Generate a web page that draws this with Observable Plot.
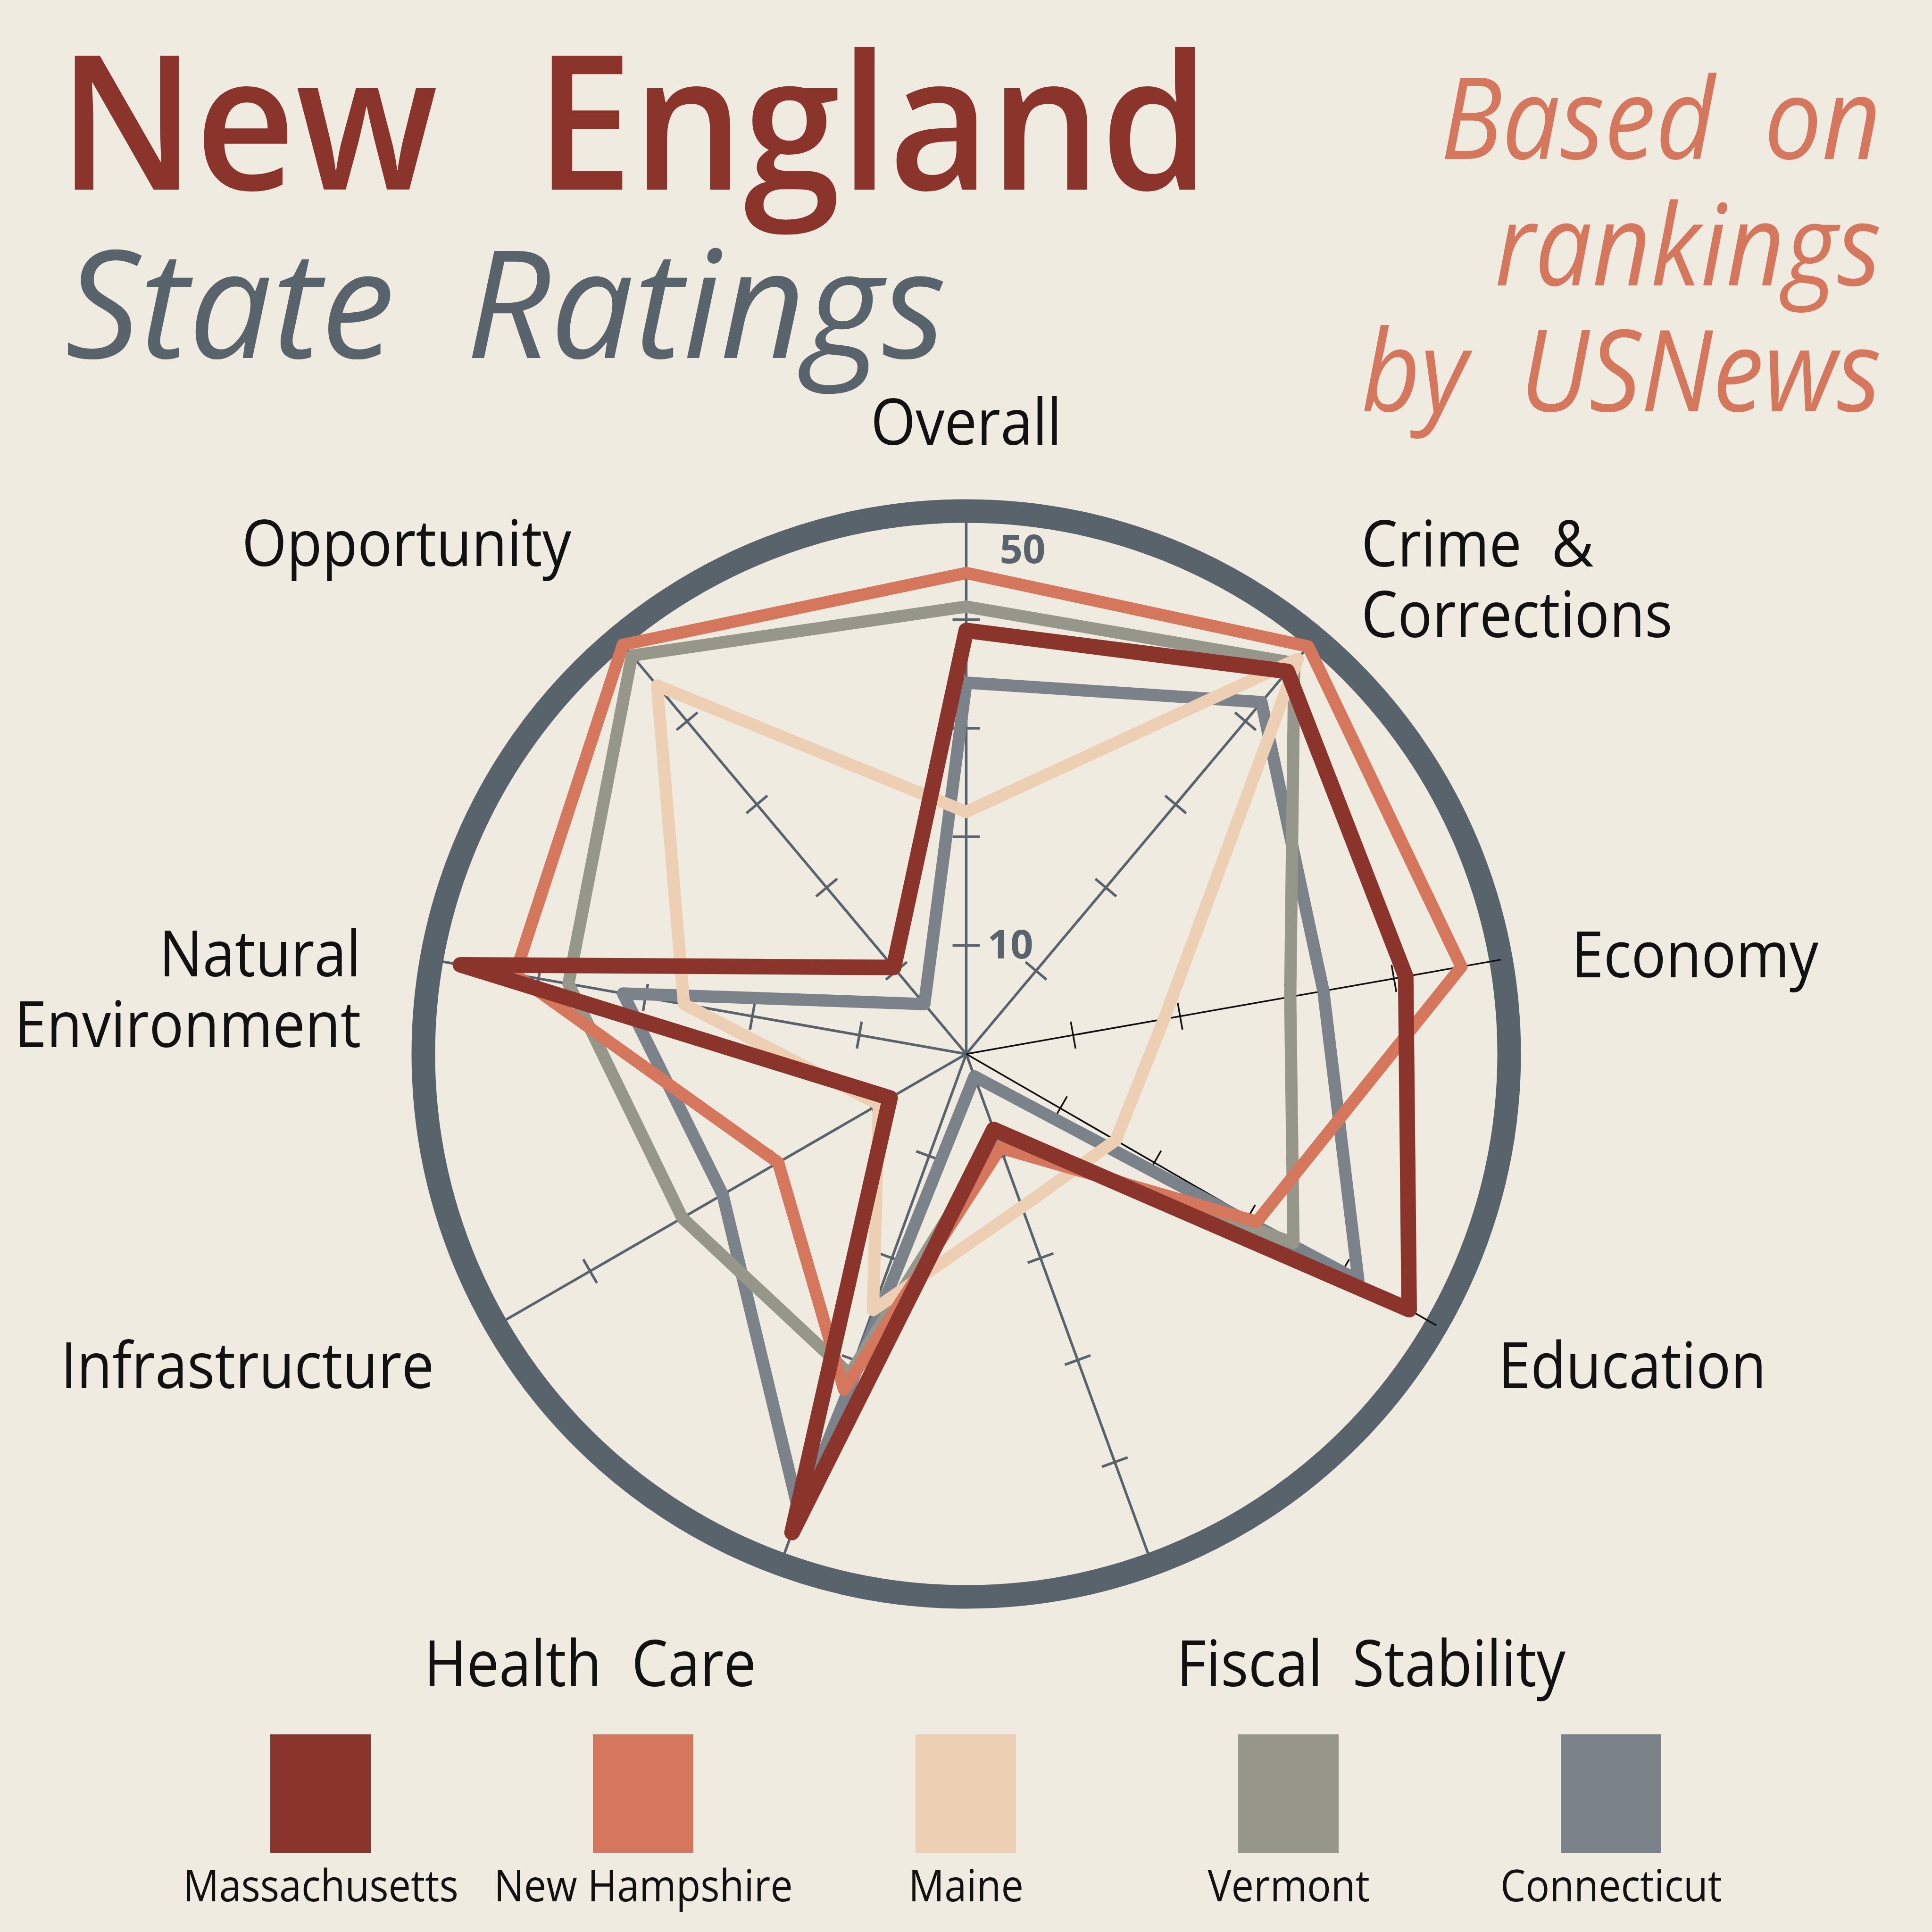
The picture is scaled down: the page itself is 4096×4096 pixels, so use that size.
<!DOCTYPE html>
<html><head><meta charset="utf-8">
<script src="https://cdn.jsdelivr.net/npm/d3@7"></script>
<script src="https://cdn.jsdelivr.net/npm/@observablehq/plot@0.6"></script>
<style>
html,body{margin:0;padding:0;background:#EFEBE0;}
#page{position:relative;width:4096px;height:4096px;overflow:hidden;background:#EFEBE0;font-family:"Open Sans",sans-serif;}
#titles{position:absolute;left:0;top:0;}
#radar{position:absolute;left:0;top:0;}
#legend{position:absolute;left:0;top:3600px;}
#titles text{font-family:"Open Sans",sans-serif;}
</style></head><body><div id="page">
<svg id="titles" width="4096" height="1000" xmlns="http://www.w3.org/2000/svg">
  <text x="124" y="402" font-size="398" font-weight="600" fill="#8A342C" textLength="2440" lengthAdjust="spacingAndGlyphs" style="word-spacing:0.3em">New England</text>
  <text x="138" y="759" font-size="318" font-style="italic" font-weight="400" fill="#58636C" textLength="1868" lengthAdjust="spacingAndGlyphs" style="word-spacing:0.22em">State Ratings</text>
  <text x="3988" y="337" font-size="240" font-style="italic" font-weight="400" fill="#D4775D" text-anchor="end" textLength="934" lengthAdjust="spacingAndGlyphs" style="word-spacing:0.22em">Based on</text>
  <text x="3988" y="605" font-size="240" font-style="italic" font-weight="400" fill="#D4775D" text-anchor="end" textLength="819" lengthAdjust="spacingAndGlyphs">rankings</text>
  <text x="3988" y="872" font-size="240" font-style="italic" font-weight="400" fill="#D4775D" text-anchor="end" textLength="1102" lengthAdjust="spacingAndGlyphs" style="word-spacing:0.25em">by USNews</text>
</svg>
<div id="radar"></div>
<div id="legend"></div>
</div>
<script>
// ---- data ----
const axes = ["Overall", "Crime & Corrections", "Economy", "Education", "Fiscal Stability", "Health Care", "Infrastructure", "Natural Environment", "Opportunity"];
const axisLabels = ["Overall", "Crime\u00A0 &\nCorrections", "Economy", "Education", "Fiscal\u00A0 Stability", "Health\u00A0 Care", "Infrastructure", "Natural\nEnvironment", "Opportunity"];
const states = ["Massachusetts", "New Hampshire", "Maine", "Vermont", "Connecticut"];
const stateColors = ["#8A342C", "#D4775D", "#EDCFB3", "#96968B", "#7B8289"];
const massachusetts = [39.0, 46.0, 41.1, 47.1, 7.4, 46.9, 8.1, 47.3, 10.4];
const newHampshire  = [44.3, 49.0, 46.3, 30.9, 9.2, 32.9, 20.0, 42.2, 49.2];
const maine         = [22.3, 47.5, 18.5, 15.9, 15.0, 25.1, 9.3, 26.4, 44.3];
const vermont       = [41.2, 47.0, 30.3, 34.8, 8.3, 31.4, 30.2, 37.2, 47.9];
const connecticut   = [34.2, 42.3, 33.4, 41.7, 2.2, 45.0, 25.9, 32.1, 6.0];
const tickValues = [10, 20, 30, 40];
const tickLabels = [10, 50];
const scaleMax = 50;

// ---- layout / style ----
const W = 4096, H = 3600;
const cx = 2048, cy = 2234, k = 23.02; // px per rating unit
const slate = "#58636C";
const blackAxes = ["Economy", "Education"];
const labelR = 56.6;
const labelNudge = [-36, -8, 16, 9, 68, 68, 9, 89, -84]; // px, down positive
const tickHalf = 29 / k;
const seriesData = [massachusetts, newHampshire, maine, vermont, connecticut];
const drawOrder = [4, 3, 2, 1, 0];
const strokeW = [33, 26, 26, 26, 26];
const textSqueeze = 0.9;

const angle = axes.map((_, i) => i * 40 * Math.PI / 180);
const px = (r, i) => r * Math.sin(angle[i]);
const py = (r, i) => r * Math.cos(angle[i]);

const polygons = states.map((s, si) => {
  const pts = seriesData[si].map((v, i) => ({state: s, x: px(v, i), y: py(v, i)}));
  pts.push(pts[0]);
  return pts;
});

const ticks = [];
axes.forEach((a, i) => tickValues.forEach(v => ticks.push({axis: a, i, v})));

const anchorOf = i => {
  const s = Math.sin(angle[i]);
  return s > 0.01 ? "start" : s < -0.01 ? "end" : "middle";
};

const axisIdx = axes.map((a, i) => i);
const labelMark = anchor => Plot.text(axisIdx.filter(i => anchorOf(i) === anchor), {
  x: i => px(labelR, i),
  y: i => py(labelR, i) - labelNudge[i] / k,
  text: i => axisLabels[i],
  textAnchor: anchor,
  lineAnchor: "middle",
  lineHeight: 1.1,
  fontSize: 136,
  fill: "#111"
});

const axisLink = (isBlack) => Plot.link(axes.filter(a => blackAxes.includes(a) === isBlack), {
  x1: () => 0, y1: () => 0,
  x2: a => px(scaleMax, axes.indexOf(a)), y2: a => py(scaleMax, axes.indexOf(a)),
  stroke: isBlack ? "#111" : slate,
  strokeWidth: isBlack ? 3.5 : 5.5
});
const tickLink = (isBlack) => Plot.link(ticks.filter(t => blackAxes.includes(t.axis) === isBlack), {
  x1: t => px(t.v, t.i) - tickHalf * Math.cos(angle[t.i]),
  y1: t => py(t.v, t.i) + tickHalf * Math.sin(angle[t.i]),
  x2: t => px(t.v, t.i) + tickHalf * Math.cos(angle[t.i]),
  y2: t => py(t.v, t.i) - tickHalf * Math.sin(angle[t.i]),
  stroke: isBlack ? "#111" : slate,
  strokeWidth: isBlack ? 3.5 : 5.5
});

const radar = Plot.plot({
  width: W, height: H, margin: 0,
  x: {domain: [-cx / k, (W - cx) / k], range: [0, W], axis: null},
  y: {domain: [-(H - cy) / k, cy / k], range: [H, 0], axis: null},
  color: {domain: states, range: stateColors},
  style: {background: "none", fontFamily: "'Open Sans', sans-serif", overflow: "visible"},
  marks: [
    Plot.dot([0], {x: () => 0, y: () => 0, r: scaleMax * k, fill: "none", stroke: slate, strokeWidth: 50}),
    axisLink(false), axisLink(true),
    tickLink(false), tickLink(true),
    Plot.text(tickLabels, {
      x: v => (v === scaleMax ? 71 : 45) / k,
      y: v => v === scaleMax ? v - 3.6 : v,
      text: v => String(v),
      textAnchor: "start",
      lineAnchor: "middle",
      fontSize: 85, fontWeight: 700, fill: slate
    }),
    ...drawOrder.map(si => Plot.line(polygons[si], {
      x: "x", y: "y", stroke: "state", strokeWidth: strokeW[si],
      strokeLinejoin: "round", strokeLinecap: "round"
    })),
    labelMark("start"), labelMark("middle"), labelMark("end")
  ]
});
radar.querySelectorAll('g[font-size="136"] text').forEach(t => {
  t.setAttribute("transform", (t.getAttribute("transform") || "") + ` scale(${textSqueeze},1)`);
});
document.getElementById("radar").appendChild(radar);

const legend = Plot.plot({
  width: W, height: 496, margin: 0,
  x: {type: "band", domain: states, range: [573, 3522], paddingInner: 0.689, paddingOuter: 0, axis: null},
  y: {domain: [0, 1], range: [328, 77], axis: null},
  color: {domain: states, range: stateColors},
  style: {background: "none", fontFamily: "'Open Sans', sans-serif"},
  marks: [
    Plot.barY(states, {x: d => d, y1: () => 0, y2: () => 1, fill: d => d}),
    Plot.text(states, {x: d => d, y: () => -0.41, text: d => d, lineAnchor: "bottom", fontSize: 94, fill: "#111"})
  ]
});
legend.querySelectorAll("text").forEach(t => {
  t.setAttribute("transform", (t.getAttribute("transform") || "") + ` scale(${textSqueeze},1)`);
});
document.getElementById("legend").appendChild(legend);
</script>
</body></html>
